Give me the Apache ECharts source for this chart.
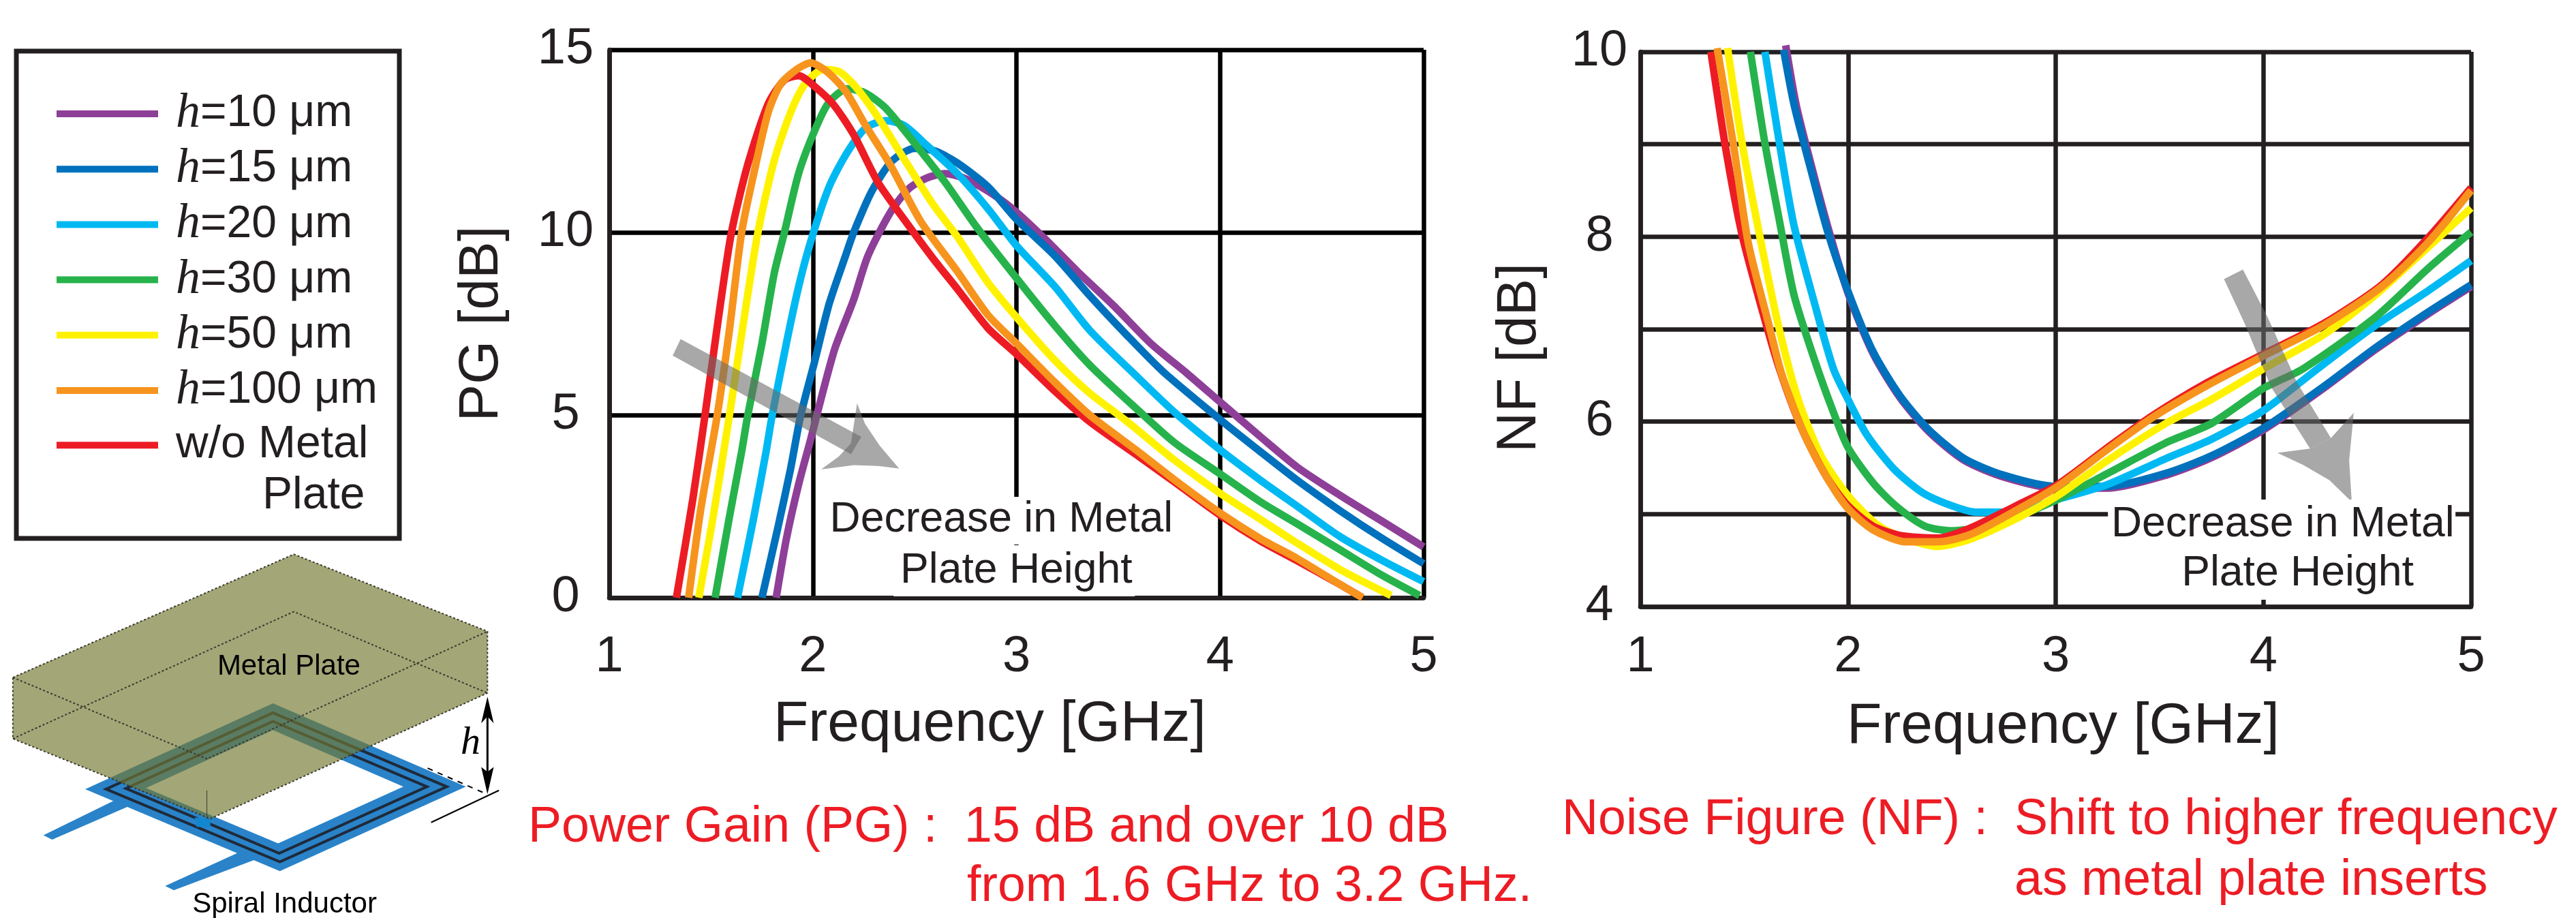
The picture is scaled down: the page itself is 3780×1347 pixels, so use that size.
<!DOCTYPE html>
<html><head><meta charset="utf-8">
<style>html,body{margin:0;padding:0;background:#fff}#c{width:3780px;height:1347px}</style>
<script src="https://cdn.jsdelivr.net/npm/echarts@6/dist/echarts.min.js"></script>
</head><body><div id="c"></div>
<script>
const seriesNames = ['h=10 μm','h=15 μm','h=20 μm','h=30 μm','h=50 μm','h=100 μm','w/o Metal'];
const seriesColors = ['#8e3f98','#0071bc','#00b9f2','#27b34b','#fff200','#f7941e','#ed1c24'];
const xTicks = [1,2,3,4,5];
const pgTicks = [0,5,10,15];
const nfTicks = [4,6,8,10];

const pgH10 = [[1.82,0],[1.87,1.61],[1.93,3.10],[1.99,4.35],[2.05,5.65],[2.11,6.85],[2.20,8.15],[2.27,9.35],[2.38,10.54],[2.47,11.19],[2.56,11.49],[2.65,11.61],[2.74,11.49],[2.86,11.13],[2.98,10.65],[3.13,9.88],[3.30,8.93],[3.48,7.98],[3.66,6.96],[3.84,6.13],[4.0,5.36],[4.20,4.40],[4.38,3.57],[4.59,2.80],[4.80,2.08],[5,1.39]];
const pgH15 = [[1.75,0],[1.83,1.96],[1.89,3.51],[1.94,4.98],[2.01,6.49],[2.08,8.04],[2.16,9.35],[2.20,9.99],[2.29,11.13],[2.39,11.96],[2.50,12.30],[2.60,12.23],[2.71,11.90],[2.86,11.25],[3.0,10.36],[3.19,9.35],[3.36,8.27],[3.54,7.20],[3.72,6.19],[4.0,4.88],[4.20,3.99],[4.38,3.21],[4.59,2.38],[4.80,1.61],[5,0.93]];
const pgH20 = [[1.63,0],[1.71,2.20],[1.77,3.99],[1.80,4.98],[1.87,6.96],[1.93,8.51],[1.99,9.76],[2.08,11.25],[2.17,12.20],[2.26,12.86],[2.36,13.06],[2.45,12.92],[2.56,12.38],[2.71,11.61],[2.86,10.65],[3.0,9.64],[3.19,8.51],[3.36,7.32],[3.60,6.01],[3.78,5.06],[4.0,4.05],[4.20,3.21],[4.38,2.50],[4.59,1.67],[4.80,1.01],[5,0.44]];
const pgH30 = [[1.52,0],[1.59,2.20],[1.65,3.99],[1.68,4.98],[1.75,6.96],[1.81,8.87],[1.86,9.99],[1.93,11.61],[2.01,12.80],[2.08,13.57],[2.17,13.93],[2.26,13.81],[2.36,13.39],[2.50,12.44],[2.65,11.37],[2.80,10.18],[3.0,8.75],[3.19,7.44],[3.36,6.37],[3.60,5.12],[3.78,4.23],[4.0,3.39],[4.20,2.62],[4.38,2.02],[4.59,1.31],[4.80,0.60],[4.98,0.06]];
const pgH50 = [[1.44,0],[1.51,2.20],[1.59,4.98],[1.66,7.56],[1.73,9.99],[1.81,11.96],[1.89,13.27],[1.96,14.05],[2.05,14.46],[2.13,14.40],[2.21,13.99],[2.32,13.15],[2.44,12.08],[2.59,10.77],[2.71,9.88],[2.86,8.63],[3.0,7.68],[3.19,6.49],[3.36,5.60],[3.53,4.88],[3.78,3.75],[4.0,2.86],[4.20,2.14],[4.38,1.49],[4.59,0.77],[4.84,0.06]];
const pgH100 = [[1.39,0],[1.45,2.44],[1.53,4.98],[1.59,7.32],[1.65,9.99],[1.71,11.61],[1.78,13.27],[1.84,14.05],[1.92,14.46],[1.99,14.64],[2.07,14.40],[2.16,13.87],[2.26,12.92],[2.38,11.85],[2.53,10.30],[2.71,8.93],[2.86,7.74],[3.0,6.96],[3.19,5.89],[3.36,5.0],[3.60,3.99],[3.78,3.21],[4.0,2.32],[4.20,1.61],[4.38,1.07],[4.59,0.36],[4.70,0]];
const pgNone = [[1.33,0],[1.41,2.68],[1.47,4.98],[1.54,7.80],[1.60,9.99],[1.68,11.85],[1.78,13.51],[1.86,14.17],[1.93,14.29],[2.01,13.99],[2.10,13.51],[2.20,12.68],[2.32,11.37],[2.44,10.42],[2.59,9.29],[2.71,8.45],[2.86,7.38],[3.0,6.67],[3.19,5.65],[3.36,4.82],[3.60,3.87],[3.78,3.15],[4.0,2.26],[4.20,1.55],[4.38,1.01],[4.59,0.36],[4.70,0]];

const nfH10 = [[1.70,10.07],[1.75,9.43],[1.82,8.80],[1.91,8.05],[2.0,7.39],[2.12,6.74],[2.25,6.26],[2.39,5.89],[2.56,5.58],[2.75,5.40],[3.0,5.28],[3.25,5.28],[3.53,5.42],[3.75,5.61],[4.0,5.91],[4.29,6.36],[4.54,6.78],[4.79,7.16],[5.0,7.46]];
const nfH15 = [[1.69,10.02],[1.74,9.43],[1.81,8.82],[1.90,8.07],[2.0,7.41],[2.12,6.76],[2.25,6.28],[2.39,5.91],[2.56,5.60],[2.75,5.42],[3.0,5.30],[3.25,5.30],[3.53,5.44],[3.75,5.63],[4.0,5.93],[4.29,6.38],[4.54,6.80],[4.79,7.18],[5.0,7.48]];
const nfH20 = [[1.60,10],[1.67,9.01],[1.74,8.12],[1.84,7.27],[1.93,6.57],[2.0,6.24],[2.09,5.86],[2.22,5.49],[2.36,5.23],[2.50,5.09],[2.62,5.02],[2.78,5.02],[3.01,5.16],[3.25,5.32],[3.53,5.60],[3.75,5.81],[4.0,6.12],[4.26,6.57],[4.54,7.04],[4.79,7.41],[5.0,7.74]];
const nfH30 = [[1.53,10],[1.60,9.01],[1.67,8.17],[1.74,7.37],[1.84,6.66],[1.93,6.10],[2.0,5.72],[2.12,5.34],[2.23,5.09],[2.37,4.87],[2.50,4.82],[2.62,4.85],[2.81,4.97],[3.01,5.16],[3.25,5.44],[3.53,5.77],[3.75,5.98],[4.0,6.36],[4.19,6.57],[4.54,7.13],[4.79,7.65],[5.0,8.05]];
const nfH50 = [[1.42,10.04],[1.49,9.01],[1.59,7.84],[1.67,6.99],[1.76,6.24],[1.87,5.63],[2.0,5.20],[2.15,4.87],[2.31,4.71],[2.43,4.65],[2.59,4.73],[2.81,4.95],[3.01,5.20],[3.25,5.58],[3.53,5.98],[3.75,6.24],[4.0,6.57],[4.29,6.94],[4.54,7.37],[4.79,7.88],[5.0,8.31]];
const nfH100 = [[1.37,10.04],[1.45,8.97],[1.52,7.93],[1.62,7.04],[1.68,6.52],[1.79,5.86],[1.90,5.39],[2.0,5.06],[2.12,4.83],[2.28,4.70],[2.43,4.70],[2.59,4.78],[2.81,5.04],[3.01,5.30],[3.25,5.70],[3.47,6.05],[3.72,6.38],[4.0,6.71],[4.29,7.04],[4.57,7.46],[4.79,7.93],[5.0,8.50]];
const nfNone = [[1.34,10],[1.41,8.97],[1.49,8.02],[1.59,7.18],[1.67,6.57],[1.78,5.91],[1.90,5.39],[2.0,5.09],[2.12,4.87],[2.25,4.77],[2.43,4.74],[2.59,4.85],[2.81,5.09],[3.01,5.32],[3.25,5.72],[3.47,6.07],[3.72,6.41],[4.0,6.73],[4.29,7.06],[4.57,7.48],[4.79,7.98],[5.0,8.53]];

const pgData = [pgH10,pgH15,pgH20,pgH30,pgH50,pgNone,pgH100];
const nfData = [nfH10,nfH15,nfH20,nfH30,nfH50,nfNone,nfH100];
const drawOrder = [0,1,2,3,4,6,5];

const INK = '#231f20', FONT = '"Liberation Sans", Arial, sans-serif', RED = '#ed1c24';

function mkSeries(data, idx){
  return data.map((d,i)=>({
    name: seriesNames[drawOrder[i]], type:'line', xAxisIndex:idx, yAxisIndex:idx,
    data:d, smooth:0.25, symbol:'none', showSymbol:false, clip:false,
    lineStyle:{width:11,color:seriesColors[drawOrder[i]],cap:'butt'},
    itemStyle:{color:seriesColors[drawOrder[i]]},
    emphasis:{disabled:true}, animation:false, z:3+i
  }));
}
function xAxis(idx, labelMargin, nameGap, namePad){
  return {type:'value',gridIndex:idx,min:1,max:5,interval:1,
    axisLine:{show:true,onZero:false,lineStyle:{color:INK,width:6.5}},axisTick:{show:false},
    splitLine:{show:true,lineStyle:{color:idx?INK:'#000',width:6.5}},
    axisLabel:{margin:labelMargin,fontSize:74,color:INK,fontFamily:FONT,showMinLabel:true,showMaxLabel:true,hideOverlap:false},
    name:'Frequency [GHz]',nameLocation:'middle',nameGap:nameGap,
    nameTextStyle:{fontSize:84,color:INK,fontFamily:FONT,padding:namePad,verticalAlign:'top'}};
}
function yAxis(idx, o){
  return Object.assign({type:'value',gridIndex:idx,
    axisLine:{show:true,onZero:false,lineStyle:{color:INK,width:6.5}},axisTick:{show:false},
    splitLine:{show:true,lineStyle:{color:idx?INK:'#000',width:6.5}},
    nameLocation:'middle',nameRotate:90},o);
}

/* annotation helpers: map reference crop readings to page pixels */
const L = (x,y)=>[x/1.12+780,y/1.568];
const R = (x,y)=>[x/1.0453+2280,y/1.568];
const I = (x,y)=>[x/1.96,780+y/2.765];
const poly=(pts,fill,z,extra)=>Object.assign({type:'polygon',silent:true,z:z,shape:{points:pts},style:{fill:fill}},extra||{});
const line=(pts,color,w,z,dash)=>({type:'polyline',silent:true,z:z,shape:{points:pts},style:{fill:null,stroke:color,lineWidth:w,lineDash:dash||null}});
/* y is the text baseline */
const txt=(s,x,y,size,color,z,o)=>({type:'text',silent:true,z:z,x:x,y:y-0.83*size,style:Object.assign({text:s,fontSize:size,fontFamily:FONT,fill:color,verticalAlign:'top',align:'left'},o||{})});
const white=(x,y,w,h)=>({type:'rect',silent:true,z:50,shape:{x,y,width:w,height:h},style:{fill:'#fff'}});
const GRAY='rgba(105,105,105,0.58)';

const graphicEls = [
  {type:'rect',silent:true,z:1,shape:{x:24,y:75,width:562,height:715},style:{fill:null,stroke:INK,lineWidth:7}},
  txt('Plate',385,750,66,INK,60),

  /* inductor */
  poly([I(785,697),I(1340,1035),I(805,1378),I(245,1045)],'#2a83c8',2),
  poly([I(785,735),I(1285,1035),I(805,1340),I(305,1045)],'none',3,{style:{fill:null,stroke:'#1f2a3a',lineWidth:4}}),
  poly([I(785,770),I(1228,1035),I(803,1305),I(362,1042)],'none',3,{style:{fill:null,stroke:'#1f2a3a',lineWidth:4}}),
  poly([I(785,805),I(1160,1035),I(800,1265),I(420,1040)],'#fff',3),
  poly([I(330,1090),I(385,1105),I(150,1250),I(125,1232)],'#2a83c8',2),
  poly([I(705,1290),I(745,1325),I(500,1455),I(475,1438)],'#2a83c8',2),
  poly([I(560,1160),I(605,1165),I(605,1200),I(565,1198)],'#1287cf',4),
  /* plate */
  poly([I(37,592),I(845,92),I(1402,405),I(1402,655),I(605,1165),I(37,840)],'rgba(115,120,47,0.66)',5),
  line([I(37,592),I(845,92),I(1402,405),I(1402,655),I(605,1165),I(37,840),I(37,592)],'#3a3a30',2,6,[3,3]),
  line([I(37,592),I(595,922),I(1402,405)],'#3a3a30',2,6,[3,3]),
  line([I(37,840),I(845,325),I(1402,655)],'#3a3a30',2,6,[3,3]),
  line([I(595,1050),I(595,1165)],'#3a3a30',1,6),
  txt('Metal Plate',I(625,0)[0],I(0,588)[1],42,'#000',7),
  txt('Spiral Inductor',I(553,0)[0],I(0,1552)[1],42,'#000',7),
  /* height marker */
  line([I(1402,700),I(1402,1040)],'#000',3,7),
  poly([I(1402,670),I(1420,778),I(1402,750),I(1384,778)],'#000',7),
  poly([I(1402,1065),I(1420,955),I(1402,975),I(1384,955)],'#000',7),
  line([I(1240,1180),I(1435,1050)],'#000',2,7),
  line([I(1230,960),I(1395,1062)],'#000',2,7,[8,8]),
  txt('h',I(1325,0)[0],I(0,912)[1],58,'#000',7,{fontFamily:'"Liberation Serif", serif',fontStyle:'italic'}),

  /* PG annotation */
  poly([L(245,780),L(232,818),L(525,1045),L(542,1005)],GRAY,40),
  poly([L(535,928),L(548,975),L(572,1025),L(604,1078),L(570,1072),L(530,1070),L(476,1080),L(505,1050),L(525,1020)],GRAY,40),
  white(...L(490,1143),499,70), white(L(595,0)[0],800,354,75),
  txt('Decrease in Metal',L(490,0)[0],783,62.5,INK,60),
  txt('Plate Height',L(606,0)[0],858,62.5,INK,60),

  /* NF annotation */
  poly([R(1057,620),R(1028,642),R(1060,745),R(1100,890),R(1160,1032),R(1192,1008),R(1140,880),R(1095,730)],GRAY,40),
  poly([R(1227,950),R(1220,1060),R(1224,1155),R(1190,1105),R(1150,1070),R(1110,1042),R(1160,1032),R(1192,1008)],GRAY,40),
  white(R(850,0)[0],733,510,147),
  txt('Decrease in Metal',R(855,0)[0],790,62.5,INK,60),
  txt('Plate Height',R(963,0)[0],862,62.5,INK,60),

  /* captions */
  txt('Power Gain (PG) :',775,1239,73.5,RED,60),
  txt('15 dB and over 10 dB',1415,1239,73.5,RED,60),
  txt('from 1.6 GHz to 3.2 GHz.',1419,1326,73.5,RED,60),
  txt('Noise Figure (NF) :',2292,1228,73.5,RED,60),
  txt('Shift to higher frequency',2956,1228,73.5,RED,60),
  txt('as metal plate inserts',2956,1317,73.5,RED,60)
];

const chart = echarts.init(document.getElementById('c'),null,{renderer:'canvas'});
chart.setOption({
  animation:false, backgroundColor:'#fff',
  grid:[
    {left:894,top:73,width:1195,height:804},
    {left:2407,top:76,width:1219,height:814}
  ],
  xAxis:[xAxis(0,51,145,[0,78,0,0]),xAxis(1,38,135,[0,0,0,22])],
  yAxis:[
    yAxis(0,{min:0,max:15,interval:5,name:'PG [dB]',nameGap:146,
      nameTextStyle:{fontSize:82,color:INK,fontFamily:FONT},
      axisLabel:{margin:64,align:'center',fontSize:74,color:INK,fontFamily:FONT}}),
    yAxis(1,{min:4,max:10,interval:1,name:'NF [dB]',nameGap:136,
      nameTextStyle:{fontSize:82,color:INK,fontFamily:FONT,padding:[0,84,0,0]},
      axisLabel:{margin:60,align:'center',fontSize:74,color:INK,fontFamily:FONT,
        formatter:v=>nfTicks.includes(v)?String(v):''}})
  ],
  legend:{
    data:seriesNames, orient:'vertical', left:78, top:131, padding:0, itemWidth:149, itemHeight:10, itemGap:9.2,
    selectedMode:false, icon:'inherit', lineStyle:{width:10,cap:'butt'},
    formatter:n=>n[0]==='h'?'{i|h}{t|'+n.slice(1)+'}':'{p|'+n+'}',
    textStyle:{fontSize:66,lineHeight:70,color:INK,fontFamily:FONT,
      rich:{i:{fontFamily:'"Liberation Serif",serif',fontStyle:'italic',fontSize:72,color:INK,padding:[0,0,0,21]},
            t:{fontSize:66,fontFamily:FONT,color:INK},
            p:{fontSize:66,fontFamily:FONT,color:INK,padding:[0,0,0,21]}}}
  },
  series:[...mkSeries(pgData,0),...mkSeries(nfData,1)],
  graphic:{elements:graphicEls}
});
</script></body></html>
